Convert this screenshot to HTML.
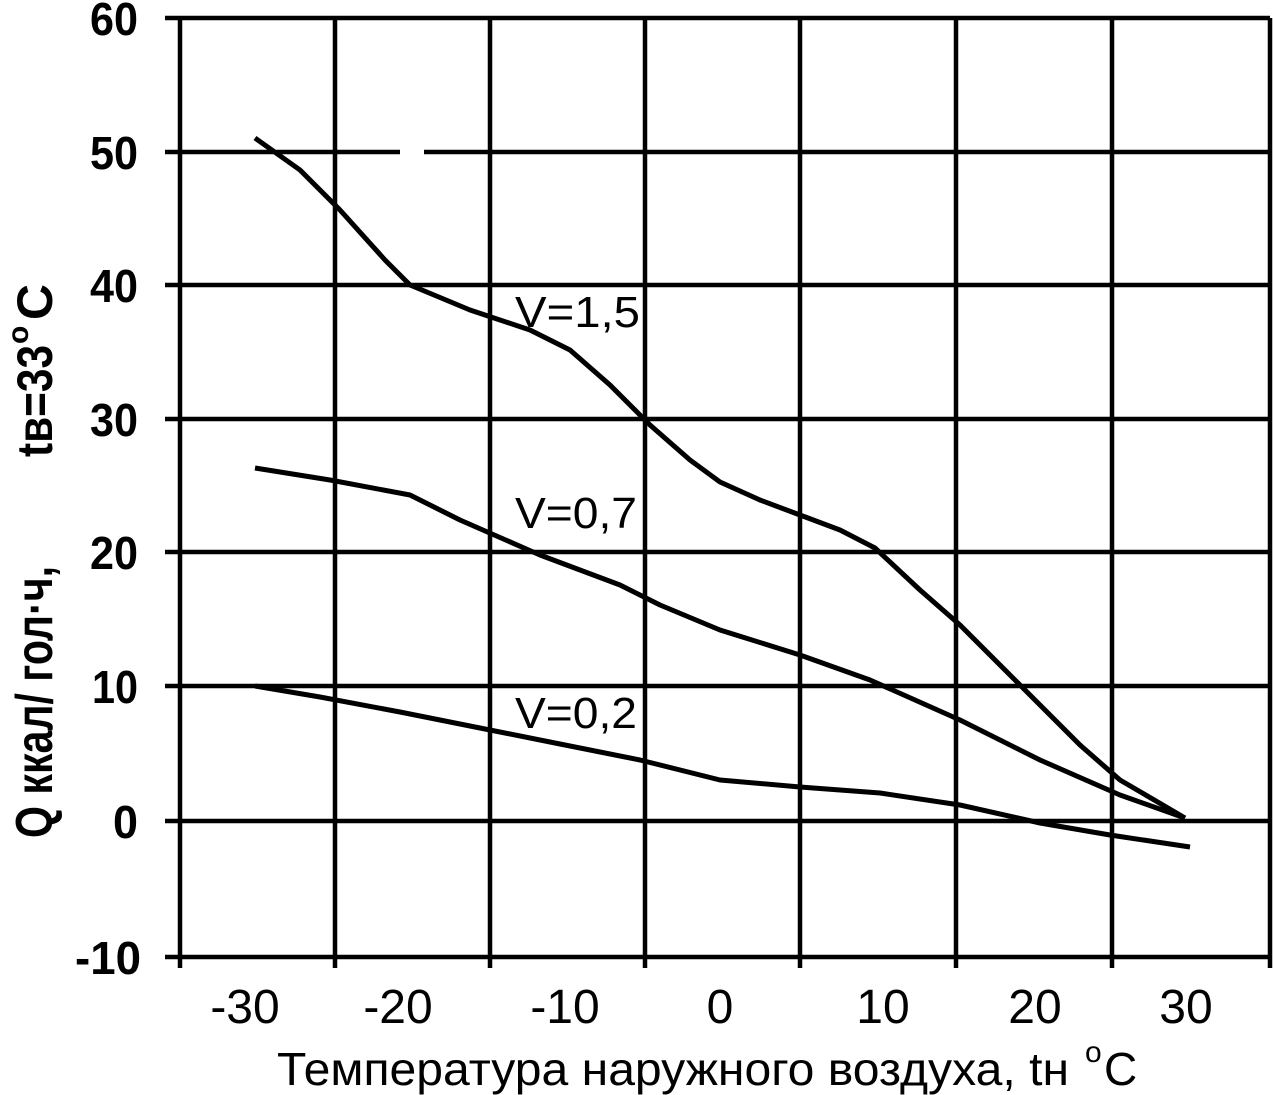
<!DOCTYPE html>
<html><head><meta charset="utf-8"><style>
html,body{margin:0;padding:0;background:#fff;}
svg{display:block;font-family:"Liberation Sans",Arial,sans-serif;}
</style></head><body>
<svg width="1273" height="1095" viewBox="0 0 1273 1095" xmlns="http://www.w3.org/2000/svg">
<g stroke="#000" stroke-width="4.5" fill="none">
<line x1="165" y1="18" x2="1270" y2="18"/>
<line x1="165" y1="152" x2="400" y2="152"/><line x1="424" y1="152" x2="1270" y2="152"/>
<line x1="165" y1="285" x2="1270" y2="285"/>
<line x1="165" y1="419" x2="1270" y2="419"/>
<line x1="165" y1="552" x2="1270" y2="552"/>
<line x1="165" y1="686" x2="1270" y2="686"/>
<line x1="165" y1="821" x2="1270" y2="821"/>
<line x1="165" y1="957" x2="1270" y2="957"/>
<line x1="180" y1="18" x2="180" y2="968"/>
<line x1="335" y1="18" x2="335" y2="968"/>
<line x1="490" y1="18" x2="490" y2="968"/>
<line x1="645" y1="18" x2="645" y2="968"/>
<line x1="800" y1="18" x2="800" y2="968"/>
<line x1="956" y1="18" x2="956" y2="968"/>
<line x1="1112" y1="18" x2="1112" y2="968"/>
<line x1="1270" y1="18" x2="1270" y2="968"/>
</g>
<g stroke="#000" stroke-width="5" fill="none" stroke-linejoin="round">
<polyline points="255,138 300,170 340,210 385,260 410,285 470,310 530,330 570,350 610,385 650,425 690,460 720,482 760,500 800,515 840,530 875,548 920,590 960,625 1000,665 1040,705 1080,745 1120,780 1185,818"/>
<polyline points="255,468 330,480 410,495 460,520 540,555 620,585 660,605 720,630 800,655 870,680 960,720 1040,760 1120,795 1185,818"/>
<polyline points="255,686 320,697 400,712 480,728 560,744 640,760 720,780 800,787 880,793 960,805 1040,823 1110,835 1190,847"/>
</g>
<g font-size="44" fill="#000">
<text x="515" y="327" textLength="125" lengthAdjust="spacingAndGlyphs">V=1,5</text>
<text x="515" y="528" textLength="122" lengthAdjust="spacingAndGlyphs">V=0,7</text>
<text x="515" y="728" textLength="122" lengthAdjust="spacingAndGlyphs">V=0,2</text>
</g>
<g font-size="46" font-weight="bold" fill="#000">
<text x="90" y="35" textLength="48" lengthAdjust="spacingAndGlyphs">60</text>
<text x="90" y="169" textLength="48" lengthAdjust="spacingAndGlyphs">50</text>
<text x="90" y="302" textLength="48" lengthAdjust="spacingAndGlyphs">40</text>
<text x="90" y="436" textLength="48" lengthAdjust="spacingAndGlyphs">30</text>
<text x="90" y="569" textLength="48" lengthAdjust="spacingAndGlyphs">20</text>
<text x="92" y="703" textLength="46" lengthAdjust="spacingAndGlyphs">10</text>
<text x="113" y="838" textLength="25" lengthAdjust="spacingAndGlyphs">0</text>
<text x="75" y="974" textLength="66" lengthAdjust="spacingAndGlyphs">-10</text>
</g>
<g font-size="48" fill="#000" text-anchor="middle">
<text x="245" y="1023">-30</text>
<text x="398" y="1023">-20</text>
<text x="565" y="1023">-10</text>
<text x="720" y="1023">0</text>
<text x="883" y="1023">10</text>
<text x="1035" y="1023">20</text>
<text x="1186" y="1023">30</text>
</g>
<text x="277" y="1085" font-size="46" textLength="792" lengthAdjust="spacingAndGlyphs">Температура наружного воздуха, tн</text>
<text x="1085" y="1062" font-size="30">o</text>
<text x="1104" y="1085" font-size="46">C</text>
<g transform="translate(52,838) rotate(-90)" font-weight="bold">
<text x="0" y="0" font-size="52" textLength="272" lengthAdjust="spacingAndGlyphs">Q ккал/ гол·ч,</text>
<text x="381" y="0" font-size="50" textLength="112" lengthAdjust="spacingAndGlyphs">tв=33</text>
<text x="494" y="-24" font-size="30">o</text>
<text x="518" y="0" font-size="50" textLength="36" lengthAdjust="spacingAndGlyphs">C</text>
</g>
</svg>
</body></html>
